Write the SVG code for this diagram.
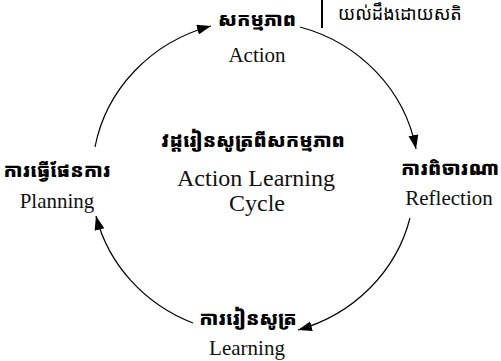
<svg xmlns="http://www.w3.org/2000/svg" width="501" height="361" viewBox="0 0 501 361">
<style>
.km{font-family:"Noto Sans Khmer","Khmer OS","Noto Serif Khmer","Noto Sans",sans-serif;font-weight:900;font-size:19px;fill:#000;text-anchor:middle}
.kmr{font-family:"Noto Sans Khmer","Khmer OS","Noto Serif Khmer","Noto Sans",sans-serif;font-size:18px;fill:#000}
.en{font-family:"Liberation Serif","Times New Roman",serif;font-size:21px;fill:#111;text-anchor:middle}
.ct{font-family:"Liberation Serif","Times New Roman",serif;font-size:24px;fill:#111;text-anchor:middle}
.arc{fill:none;stroke:#000;stroke-width:1.2}
</style>
<defs>
<marker id="ah" markerUnits="userSpaceOnUse" markerWidth="16" markerHeight="12" refX="14" refY="5" orient="auto">
<path d="M0,0 L14,5 L0,10 z" fill="#000"/>
</marker>
</defs>
<rect width="501" height="361" fill="#fff"/>
<g id="connectors">
<path class="arc" d="M300,27 A163,155 0 0 1 416,149" marker-end="url(#ah)"/>
<path class="arc" d="M410,218 A163,155 0 0 1 298,330" marker-end="url(#ah)"/>
<path class="arc" d="M193,323 A163,155 0 0 1 96,216" marker-end="url(#ah)"/>
<path class="arc" d="M95,147 A163,155 0 0 1 211,26" marker-end="url(#ah)"/>
</g>
<g id="note">
<line x1="322" y1="0" x2="322" y2="28" stroke="#000" stroke-width="2"/>
<text class="kmr" x="338" y="20">យល់ដឹងដោយសតិ</text>
</g>
<g id="action">
<text class="km" x="257" y="26">សកម្មភាព</text>
<text class="en" x="257" y="62">Action</text>
</g>
<g id="reflection">
<text class="km" x="450" y="175">ការពិចារណា</text>
<text class="en" x="449" y="205">Reflection</text>
</g>
<g id="learning">
<text class="km" x="248" y="325">ការរៀនសូត្រ</text>
<text class="en" x="247" y="355">Learning</text>
</g>
<g id="planning">
<text class="km" x="57" y="177">ការធ្វើផែនការ</text>
<text class="en" x="57" y="208">Planning</text>
</g>
<g id="center">
<text class="km" x="253" y="147">វដ្តរៀនសូត្រពីសកម្មភាព</text>
<text class="ct" x="256" y="186">Action Learning</text>
<text class="ct" x="257" y="211">Cycle</text>
</g>
</svg>
